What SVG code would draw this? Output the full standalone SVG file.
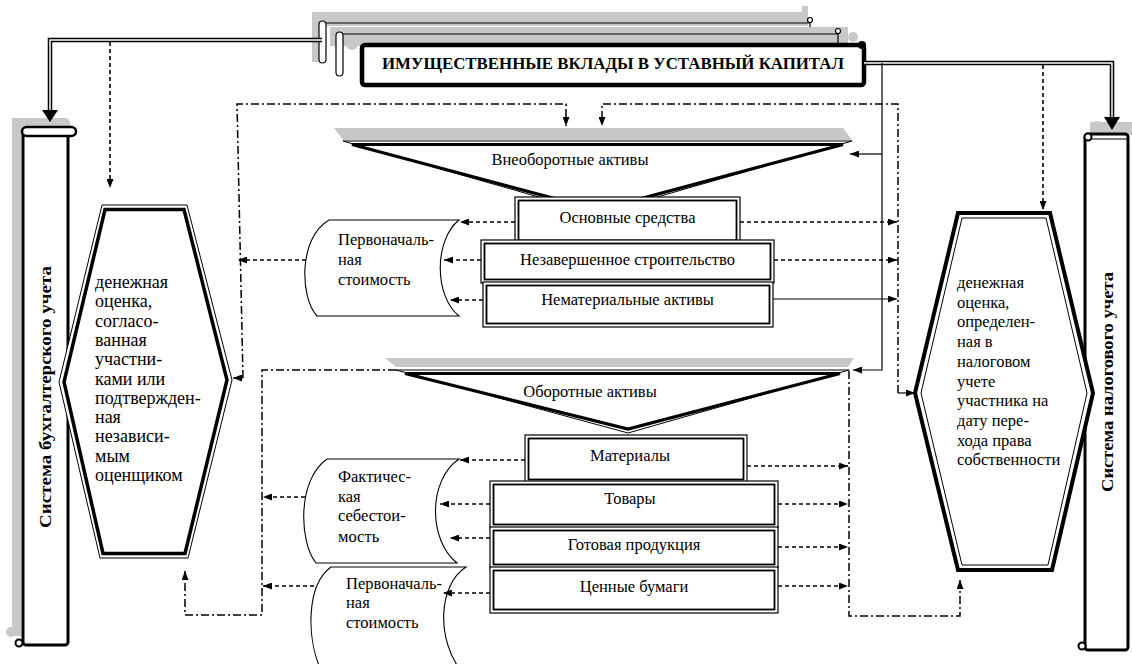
<svg xmlns="http://www.w3.org/2000/svg" width="1132" height="664" viewBox="0 0 1132 664">
<defs>
<marker id="ar" viewBox="0 0 9 7" refX="9" refY="3.5" markerWidth="9" markerHeight="7" markerUnits="userSpaceOnUse" orient="auto"><path d="M0,0 L9,3.5 L0,7 z" fill="#000"/></marker>
<style>
.t{font-family:"Liberation Serif","Times New Roman",serif;font-size:16.5px;fill:#000}
.b{font-weight:bold}
.dot{fill:none;stroke:#000;stroke-width:1.6;stroke-dasharray:4 3}
.dd{fill:none;stroke:#000;stroke-width:1.5;stroke-dasharray:8 3 2 3}
.sl{fill:none;stroke:#000;stroke-width:1.2}
.g{fill:#c8c8c8;stroke:none}
.box{fill:#fff;stroke:#000;stroke-width:1.2}
.boxi{fill:none;stroke:#000;stroke-width:1.8}
.dl{fill:none;stroke:#000;stroke-width:4.5}
.dlw{fill:none;stroke:#fff;stroke-width:1.5}
.doc{fill:#fff;stroke:#000;stroke-width:1.1}
</style>
</defs>
<rect width="1132" height="664" fill="#fff"/>

<g id="title">
<path class="g" d="M312,12 H802 V6 H808 V26 H326 V62 H312 Z"/>
<path class="sl" d="M324,23 H810 V45"/>
<circle cx="810" cy="20" r="2.5" fill="#fff" stroke="#000" stroke-width="1.2"/>
<rect x="319" y="21" width="7" height="42" rx="3.5" fill="#fff" stroke="#000" stroke-width="1.2"/>
<path class="g" d="M330,27 H848 V46 H330 Z"/>
<path class="sl" d="M341,34 H838 V46"/>
<circle cx="838" cy="31" r="2.5" fill="#fff" stroke="#000" stroke-width="1.2"/>
<rect x="336" y="32" width="7" height="44" rx="3.5" fill="#fff" stroke="#000" stroke-width="1.2"/>
<circle class="g" cx="352" cy="44" r="6"/>
<circle class="g" cx="853" cy="37" r="5"/>
<rect x="362" y="45" width="502" height="40" rx="3" fill="#fff" stroke="#000" stroke-width="4.5"/>
<circle cx="862" cy="45" r="4" fill="#000"/>
<text class="t b" x="613" y="69" text-anchor="middle" textLength="462" lengthAdjust="spacingAndGlyphs">ИМУЩЕСТВЕННЫЕ ВКЛАДЫ В УСТАВНЫЙ КАПИТАЛ</text>
</g>

<g id="sys-bu">
<rect class="g" x="12" y="118" width="58" height="14" rx="5"/>
<rect class="g" x="12" y="118" width="9" height="518"/>
<circle class="g" cx="11" cy="632" r="5"/>
<rect x="23" y="132" width="45" height="513" rx="3" fill="#fff" stroke="#000" stroke-width="3"/>
<rect x="22" y="127" width="54" height="9" rx="4.5" fill="#fff" stroke="#000" stroke-width="2.5"/>
<circle cx="19" cy="643" r="3.5" fill="#fff" stroke="#000" stroke-width="2"/>
<text class="t b" transform="translate(51,397) rotate(-90)" text-anchor="middle" textLength="262" lengthAdjust="spacingAndGlyphs" style="font-size:17px">Система  бухгалтерского учета</text>
</g>

<g id="sys-nu">
<rect class="g" x="1090" y="122" width="42" height="13"/>
<circle class="g" cx="1097" cy="127" r="6"/>
<rect x="1085" y="134" width="43" height="516" rx="3" fill="#fff" stroke="#000" stroke-width="3"/>
<line x1="1085" y1="139" x2="1128" y2="139" stroke="#000" stroke-width="1.2"/>
<circle cx="1088" cy="137" r="3.5" fill="#fff" stroke="#000" stroke-width="2"/>
<circle cx="1082" cy="646" r="3.5" fill="#fff" stroke="#000" stroke-width="2"/>
<text class="t b" transform="translate(1113,382) rotate(-90)" text-anchor="middle" textLength="220" lengthAdjust="spacingAndGlyphs" style="font-size:17px">Система  налогового учета</text>
</g>

<g id="hex-bu">
<polygon points="102,205 187,205 232,380 188,558 100,558 59,382" fill="#fff" stroke="#000" stroke-width="1"/>
<polygon points="105,209.5 184,209.5 227,380 185,553.5 103,553.5 64,382" fill="none" stroke="#000" stroke-width="3.5"/>
<text class="t" style="font-size:18px">
<tspan x="95" y="288">денежная</tspan>
<tspan x="95" y="307.3">оценка,</tspan>
<tspan x="95" y="326.6">согласо-</tspan>
<tspan x="95" y="345.9">ванная</tspan>
<tspan x="95" y="365.2">участни-</tspan>
<tspan x="95" y="384.5">ками или</tspan>
<tspan x="95" y="403.8">подтвержден-</tspan>
<tspan x="95" y="423.1">ная</tspan>
<tspan x="95" y="442.4">независи-</tspan>
<tspan x="95" y="461.7">мым</tspan>
<tspan x="95" y="481">оценщиком</tspan>
</text>
</g>

<g id="hex-nu">
<polygon points="958,213 1050,213 1093,393 1052,570 958,570 915,393" fill="#fff" stroke="#000" stroke-width="4"/>
<polygon points="962,218 1046,218 1087,393 1048,565 962,565 921,393" fill="none" stroke="#000" stroke-width="1"/>
<text class="t">
<tspan x="957" y="288">денежная</tspan>
<tspan x="957" y="307.7">оценка,</tspan>
<tspan x="957" y="327.4">определен-</tspan>
<tspan x="957" y="347.1">ная  в</tspan>
<tspan x="957" y="366.8">налоговом</tspan>
<tspan x="957" y="386.5">учете</tspan>
<tspan x="957" y="406.2">участника  на</tspan>
<tspan x="957" y="425.9">дату пере-</tspan>
<tspan x="957" y="445.6">хода права</tspan>
<tspan x="957" y="465.3">собственности</tspan>
</text>
</g>

<g id="tri-vneob">
<polygon class="g" points="334,128 843,128 852,140 343,140"/>
<polygon points="343,141 852,141 598,214" fill="#fff" stroke="#000" stroke-width="1"/>
<polygon points="352,144.5 843,144.5 598,210" fill="none" stroke="#000" stroke-width="3.2"/>
<text class="t" x="570" y="165" text-anchor="middle">Внеоборотные активы</text>
</g>

<g id="box-os">
<rect class="box" x="515" y="197" width="225" height="45"/>
<rect class="boxi" x="518.5" y="200.5" width="218" height="40"/>
<text class="t" x="627.5" y="223" text-anchor="middle">Основные средства</text>
</g>
<g id="box-nezav">
<rect class="box" x="481" y="240" width="293" height="43"/>
<rect class="boxi" x="484.5" y="243.5" width="286" height="36"/>
<text class="t" x="627.5" y="265" text-anchor="middle">Незавершенное строительство</text>
</g>
<g id="box-nemat">
<rect class="box" x="483" y="282" width="290" height="45"/>
<rect class="boxi" x="486.5" y="285.5" width="283" height="38"/>
<text class="t" x="627.5" y="305" text-anchor="middle">Нематериальные активы</text>
</g>

<g id="doc-perv1">
<path class="doc" d="M329,220 L459,220 C434,240 434,296 459,316 L317,316 C300,298 298,238 329,220 Z"/>
<text class="t"><tspan x="338" y="245">Первоначаль-</tspan><tspan x="338" y="265">ная</tspan><tspan x="338" y="285">стоимость</tspan></text>
</g>

<g id="tri-ob">
<polygon class="g" points="385,358 854,358 848,367 396,367"/>
<polygon points="396,370 849,370 628,433" fill="#fff" stroke="#000" stroke-width="1"/>
<polygon points="405,373.5 840,373.5 628,429" fill="none" stroke="#000" stroke-width="3.2"/>
<text class="t" x="590" y="397" text-anchor="middle">Оборотные активы</text>
</g>

<g id="box-mat">
<rect class="box" x="525" y="435" width="222" height="48"/>
<rect class="boxi" x="528.5" y="438.5" width="215" height="41"/>
<text class="t" x="630" y="461" text-anchor="middle">Материалы</text>
</g>
<g id="box-tov">
<rect class="box" x="490" y="481" width="288" height="47"/>
<rect class="boxi" x="493.5" y="484.5" width="281" height="40"/>
<text class="t" x="630" y="504" text-anchor="middle">Товары</text>
</g>
<g id="box-gp">
<rect class="box" x="490" y="527" width="288" height="41"/>
<rect class="boxi" x="493.5" y="530.5" width="281" height="34"/>
<text class="t" x="634" y="550" text-anchor="middle">Готовая продукция</text>
</g>
<g id="box-cb">
<rect class="box" x="490" y="567" width="288" height="46"/>
<rect class="boxi" x="493.5" y="570.5" width="281" height="39"/>
<text class="t" x="634" y="592" text-anchor="middle">Ценные бумаги</text>
</g>

<g id="doc-fakt">
<path class="doc" d="M327,459 L459,459 C428,480 428,540 457,563 L316,563 C299,542 297,480 327,459 Z"/>
<text class="t"><tspan x="338" y="482">Фактичес-</tspan><tspan x="338" y="502">кая</tspan><tspan x="338" y="521">себестои-</tspan><tspan x="338" y="542">мость</tspan></text>
</g>
<g id="doc-perv2">
<path class="doc" d="M331,567 L466,567 C438,585 436,640 462,672 L322,672 C306,640 306,585 331,567 Z"/>
<text class="t"><tspan x="346" y="589">Первоначаль-</tspan><tspan x="346" y="608">ная</tspan><tspan x="346" y="628">стоимость</tspan></text>
</g>

<g id="connectors">
<path class="dl" d="M322,40 H50 V112"/>
<path class="dlw" d="M322,40 H50 V113"/>
<polygon points="42,110 58,110 50,122" fill="#000"/>
<path class="dl" d="M864,63 H1112 V118"/>
<path class="dlw" d="M864,63 H1112 V119"/>
<polygon points="1104,117 1120,117 1112,130" fill="#000"/>
<path class="dot" d="M110,42 V188" marker-end="url(#ar)"/>
<path class="dot" d="M1043,65 V210" marker-end="url(#ar)"/>
<path class="sl" d="M882,63 V370 H853" marker-end="url(#ar)"/>
<path class="sl" d="M882,154 H850" marker-end="url(#ar)"/>
<path class="dd" d="M243,378 L237,104 H566 V126" marker-end="url(#ar)"/>
<path class="sl" d="M243,378 H233" marker-end="url(#ar)"/>
<path class="dd" d="M898,393 V104 H602 V126" marker-end="url(#ar)"/>
<path class="sl" d="M898,393 H915" marker-end="url(#ar)"/>
<path class="dot" d="M515,222 H460" marker-end="url(#ar)"/>
<path class="dot" d="M481,260 H444" marker-end="url(#ar)"/>
<path class="dot" d="M483,300 H450" marker-end="url(#ar)"/>
<path class="dot" d="M306,260 H238" marker-end="url(#ar)"/>
<path class="dot" d="M740,222 H897" marker-end="url(#ar)"/>
<path class="dot" d="M774,260 H897" marker-end="url(#ar)"/>
<path class="sl" d="M773,299 H897" marker-end="url(#ar)"/>
<path class="dd" d="M396,370 H262 V615 H185 V571" marker-end="url(#ar)"/>
<path class="dd" d="M849,371 V616 H960 V580" marker-end="url(#ar)"/>
<path class="dot" d="M525,460 H460" marker-end="url(#ar)"/>
<path class="dot" d="M490,504 H440" marker-end="url(#ar)"/>
<path class="dot" d="M490,538 H450" marker-end="url(#ar)"/>
<path class="dot" d="M490,593 H443" marker-end="url(#ar)"/>
<path class="dot" d="M305,497 H263" marker-end="url(#ar)"/>
<path class="dot" d="M314,586 H263" marker-end="url(#ar)"/>
<path class="dot" d="M747,466 H848" marker-end="url(#ar)"/>
<path class="dot" d="M778,504 H848" marker-end="url(#ar)"/>
<path class="dot" d="M778,547 H848" marker-end="url(#ar)"/>
<path class="dot" d="M778,586 H848" marker-end="url(#ar)"/>
</g>
</svg>
